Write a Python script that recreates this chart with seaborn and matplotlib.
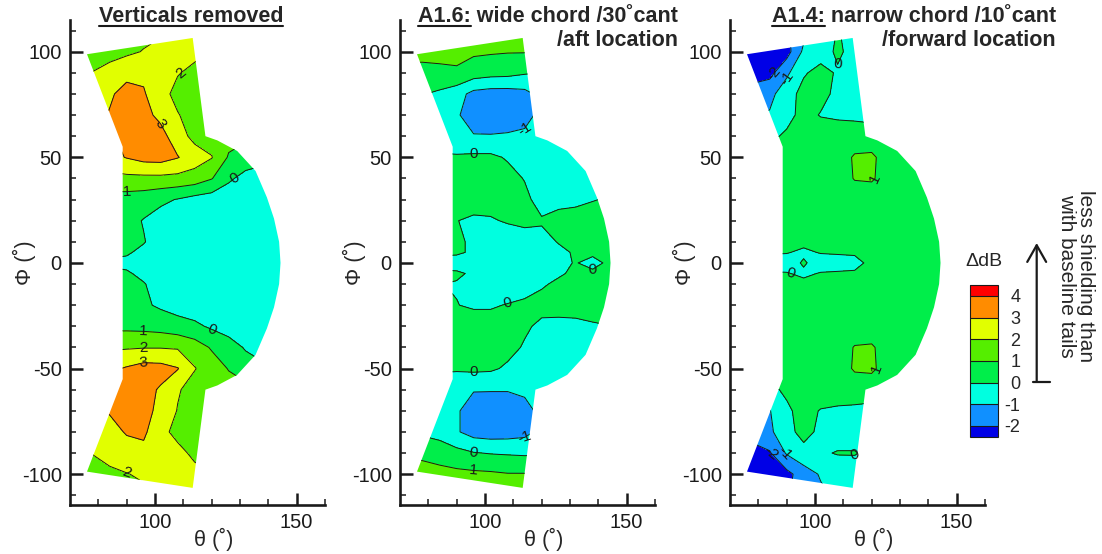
import numpy as np
import matplotlib
matplotlib.use("Agg")
import matplotlib.pyplot as plt
import seaborn as sns
from matplotlib.path import Path
from matplotlib.patches import PathPatch, FancyArrowPatch
from matplotlib.colors import ListedColormap, BoundaryNorm
from matplotlib.cm import ScalarMappable
from matplotlib.lines import Line2D

sns.set_theme(style="ticks")
plt.rcParams['font.family'] = ['Liberation Sans', 'DejaVu Sans']
plt.rcParams['axes.unicode_minus'] = False
plt.rcParams['contour.negative_linestyle'] = 'solid'

# ---------------- data ----------------
theta = [72, 78, 84, 90, 96, 102, 108, 114, 120, 126, 132, 138, 144, 150]
phi = [110, 100, 90, 80, 70, 60, 50, 40, 30, 20, 10, 5, 0, -5, -10,
       -20, -30, -40, -50, -60, -70, -80, -90, -100, -110]

dB_verticals_removed = [
    [0.8, 1.0, 1.3, 1.5, 1.7, 1.85, 1.95, 2.1, 2.1, 2.0, 1.9, 1.8, 1.7, 1.6],
    [1.0, 1.2, 1.5, 1.8, 2.05, 2.3, 2.35, 2.2, 2.0, 1.9, 1.8, 1.7, 1.6, 1.6],
    [1.7, 2.05, 2.5, 2.8, 2.8, 2.4, 2.05, 1.8, 1.6, 1.5, 1.5, 1.5, 1.5, 1.5],
    [2.2, 2.5, 2.9, 3.25, 3.1, 2.3, 1.75, 1.55, 1.5, 1.45, 1.4, 1.4, 1.4, 1.4],
    [2.4, 2.7, 3.05, 3.4, 3.3, 2.75, 2.05, 1.65, 1.5, 1.4, 1.35, 1.3, 1.3, 1.3],
    [2.4, 2.6, 2.85, 3.3, 3.55, 3.35, 2.45, 1.7, 1.5, 1.35, 1.2, 1.1, 1.05, 1.05],
    [2.2, 2.4, 2.7, 3.05, 3.35, 3.4, 3.05, 2.5, 2.05, 0.9, 0.5, 0.3, 0.2, 0.2],
    [1.5, 1.6, 1.7, 1.75, 1.75, 1.75, 1.7, 1.55, 1.05, 0.15, -0.3, -0.45, -0.5, -0.5],
    [0.6, 0.6, 0.6, 0.55, 0.45, 0.2, -0.05, -0.35, -0.5, -0.55, -0.6, -0.6, -0.55, -0.5],
    [0.5, 0.45, 0.4, 0.3, -0.05, -0.4, -0.55, -0.6, -0.65, -0.65, -0.65, -0.6, -0.55, -0.5],
    [0.4, 0.4, 0.35, 0.25, 0.05, -0.4, -0.6, -0.65, -0.65, -0.65, -0.65, -0.6, -0.55, -0.5],
    [0.2, 0.2, 0.15, 0.1, -0.2, -0.5, -0.6, -0.65, -0.65, -0.65, -0.65, -0.6, -0.55, -0.5],
    [-0.1, -0.1, -0.1, -0.2, -0.45, -0.55, -0.6, -0.65, -0.65, -0.65, -0.65, -0.6, -0.55, -0.5],
    [0.2, 0.2, 0.15, 0.1, -0.2, -0.5, -0.6, -0.65, -0.65, -0.65, -0.65, -0.6, -0.55, -0.5],
    [0.4, 0.4, 0.35, 0.25, 0.05, -0.35, -0.6, -0.65, -0.65, -0.65, -0.65, -0.6, -0.55, -0.5],
    [0.5, 0.5, 0.45, 0.4, 0.15, -0.15, -0.4, -0.55, -0.6, -0.65, -0.65, -0.6, -0.55, -0.5],
    [0.75, 0.75, 0.75, 0.75, 0.7, 0.6, 0.4, 0.2, -0.15, -0.45, -0.55, -0.6, -0.55, -0.5],
    [1.7, 1.8, 1.85, 1.9, 1.95, 1.95, 1.9, 1.5, 0.9, 0.45, -0.1, -0.4, -0.5, -0.5],
    [2.3, 2.5, 2.8, 3.1, 3.4, 3.35, 3.05, 2.05, 1.5, 0.95, 0.5, 0.2, 0.05, 0.05],
    [2.7, 2.85, 3.05, 3.35, 3.3, 2.9, 2.1, 1.6, 1.5, 1.4, 1.3, 1.2, 1.1, 1.1],
    [2.7, 2.9, 3.05, 3.35, 3.3, 2.75, 1.95, 1.6, 1.5, 1.45, 1.4, 1.4, 1.4, 1.4],
    [2.5, 2.6, 2.8, 3.05, 3.2, 2.2, 1.8, 1.6, 1.5, 1.5, 1.5, 1.5, 1.5, 1.5],
    [1.7, 2.05, 2.5, 2.75, 2.7, 2.55, 2.2, 1.85, 1.7, 1.6, 1.6, 1.6, 1.6, 1.6],
    [1.0, 1.4, 1.7, 1.95, 2.2, 2.4, 2.4, 2.2, 2.05, 1.9, 1.8, 1.7, 1.6, 1.6],
    [0.8, 1.05, 1.3, 1.5, 1.7, 1.9, 2.1, 2.2, 2.1, 1.95, 1.9, 1.8, 1.7, 1.6],
]

dB_A16 = [
    [1.3, 1.3, 1.3, 1.3, 1.3, 1.3, 1.25, 1.2, 1.2, 1.2, 1.2, 1.2, 1.2, 1.2],
    [1.3, 1.25, 1.2, 1.2, 1.15, 1.1, 1.05, 1.05, 1.05, 1.05, 1.05, 1.05, 1.05, 1.05],
    [0.7, 0.75, 0.85, 0.9, 0.5, 0.35, 0.3, 0.1, -0.05, -0.05, -0.05, -0.05, -0.05, -0.05],
    [0.2, 0.05, -0.2, -0.6, -1.3, -1.45, -1.45, -1.3, -0.7, -0.5, -0.5, -0.5, -0.5, -0.5],
    [-0.3, -0.4, -0.5, -0.9, -1.4, -1.5, -1.5, -1.35, -0.7, -0.5, -0.5, -0.5, -0.5, -0.5],
    [-0.5, -0.5, -0.6, -0.9, -0.95, -0.95, -0.9, -0.8, -0.6, -0.5, -0.5, -0.5, -0.5, -0.5],
    [0.15, 0.15, 0.15, 0.15, 0.2, 0.2, -0.1, -0.45, -0.55, -0.55, -0.55, -0.5, -0.5, -0.5],
    [0.4, 0.4, 0.45, 0.5, 0.5, 0.45, 0.35, -0.05, -0.45, -0.5, -0.5, -0.5, -0.5, -0.5],
    [0.4, 0.4, 0.4, 0.4, 0.4, 0.4, 0.35, 0.25, -0.4, -0.35, -0.25, -0.05, 0.1, 0.1],
    [0.05, 0.05, 0.05, 0.02, -0.15, -0.1, 0.1, 0.25, 0.1, 0.4, 0.45, 0.5, 0.5, 0.5],
    [0.1, 0.1, 0.1, 0.05, -0.05, -0.5, -0.6, -0.5, -0.3, 0.05, 0.3, 0.4, 0.45, 0.45],
    [0.1, 0.1, 0.1, 0.1, -0.1, -0.5, -0.6, -0.55, -0.45, -0.2, 0.1, 0.2, 0.3, 0.3],
    [-0.2, -0.2, -0.2, -0.3, -0.5, -0.6, -0.6, -0.6, -0.5, -0.2, 0.05, -0.3, 0.2, 0.3],
    [0.1, 0.1, 0.1, 0.1, -0.1, -0.5, -0.6, -0.55, -0.45, -0.1, 0.15, 0.2, 0.3, 0.3],
    [0.02, 0.02, 0.02, -0.05, -0.2, -0.5, -0.6, -0.45, -0.1, 0.15, 0.35, 0.4, 0.45, 0.45],
    [0.05, 0.05, 0.05, 0.02, -0.1, -0.1, 0.05, 0.2, 0.3, 0.4, 0.4, 0.4, 0.4, 0.4],
    [0.4, 0.4, 0.4, 0.4, 0.4, 0.4, 0.35, 0.15, -0.2, -0.3, -0.25, -0.1, -0.02, -0.02],
    [0.4, 0.4, 0.45, 0.5, 0.5, 0.45, 0.3, -0.1, -0.45, -0.5, -0.5, -0.5, -0.5, -0.5],
    [0.15, 0.15, 0.15, 0.15, 0.2, 0.15, -0.15, -0.45, -0.55, -0.55, -0.55, -0.5, -0.5, -0.5],
    [-0.5, -0.5, -0.6, -0.9, -0.95, -0.95, -0.95, -0.8, -0.6, -0.5, -0.5, -0.5, -0.5, -0.5],
    [-0.3, -0.4, -0.5, -0.9, -1.4, -1.5, -1.5, -1.35, -0.7, -0.5, -0.5, -0.5, -0.5, -0.5],
    [-0.1, -0.2, -0.4, -0.9, -1.4, -1.5, -1.45, -1.3, -0.7, -0.5, -0.5, -0.5, -0.5, -0.5],
    [0.9, 0.8, 0.6, 0.3, 0.05, -0.05, -0.1, -0.15, -0.1, -0.1, -0.1, -0.1, -0.1, -0.1],
    [1.4, 1.35, 1.3, 1.25, 1.2, 1.15, 1.05, 1.05, 1.05, 1.05, 1.05, 1.05, 1.05, 1.05],
    [1.4, 1.4, 1.4, 1.35, 1.3, 1.25, 1.2, 1.15, 1.1, 1.1, 1.1, 1.1, 1.1, 1.1],
]

dB_A14 = [
    [-2.6, -2.6, -2.5, -2.2, -1.3, -0.6, 0.05, -0.3, -0.4, -0.4, -0.4, -0.4, -0.4, -0.4],
    [-2.6, -2.6, -2.6, -2.4, -0.8, -0.4, 0.15, -0.3, -0.4, -0.4, -0.4, -0.4, -0.4, -0.4],
    [-2.5, -2.4, -2.3, -1.2, -0.1, 0.3, -0.1, -0.4, -0.5, -0.5, -0.5, -0.5, -0.5, -0.5],
    [-1.8, -1.6, -1.3, -0.4, 0.3, 0.25, -0.2, -0.4, -0.5, -0.5, -0.5, -0.5, -0.5, -0.5],
    [-1.3, -1.1, -0.9, -0.3, 0.3, -0.05, -0.15, -0.2, -0.3, -0.3, -0.3, -0.3, -0.3, -0.3],
    [-0.5, -0.4, -0.2, 0.15, 0.4, 0.5, 0.5, 0.5, 0.5, 0.5, 0.5, 0.5, 0.5, 0.5],
    [0.5, 0.5, 0.5, 0.5, 0.5, 0.5, 0.55, 1.1, 1.15, 0.6, 0.5, 0.5, 0.5, 0.5],
    [0.5, 0.5, 0.5, 0.5, 0.5, 0.5, 0.55, 1.05, 1.1, 0.6, 0.5, 0.5, 0.5, 0.5],
    [0.5, 0.5, 0.5, 0.5, 0.5, 0.5, 0.5, 0.5, 0.5, 0.5, 0.5, 0.5, 0.5, 0.5],
    [0.5, 0.5, 0.5, 0.5, 0.5, 0.5, 0.5, 0.5, 0.5, 0.5, 0.5, 0.5, 0.5, 0.5],
    [0.4, 0.4, 0.4, 0.4, 0.2, 0.45, 0.5, 0.5, 0.5, 0.5, 0.5, 0.5, 0.5, 0.5],
    [0.2, 0.15, 0.1, 0.05, -0.15, 0.05, 0.1, 0.15, 0.4, 0.5, 0.5, 0.5, 0.5, 0.5],
    [-0.3, -0.4, -0.4, -0.4, 0.1, -0.4, -0.4, -0.35, 0.3, 0.5, 0.5, 0.5, 0.5, 0.5],
    [0.2, 0.15, 0.1, 0.05, -0.15, 0.05, 0.1, 0.15, 0.4, 0.5, 0.5, 0.5, 0.5, 0.5],
    [0.4, 0.4, 0.4, 0.4, 0.2, 0.45, 0.5, 0.5, 0.5, 0.5, 0.5, 0.5, 0.5, 0.5],
    [0.5, 0.5, 0.5, 0.5, 0.5, 0.5, 0.5, 0.5, 0.5, 0.5, 0.5, 0.5, 0.5, 0.5],
    [0.5, 0.5, 0.5, 0.5, 0.5, 0.5, 0.5, 0.5, 0.5, 0.5, 0.5, 0.5, 0.5, 0.5],
    [0.5, 0.5, 0.5, 0.5, 0.5, 0.5, 0.55, 1.05, 1.1, 0.6, 0.5, 0.5, 0.5, 0.5],
    [0.5, 0.5, 0.5, 0.5, 0.5, 0.5, 0.55, 1.1, 1.15, 0.6, 0.5, 0.5, 0.5, 0.5],
    [-0.5, -0.4, -0.2, 0.15, 0.4, 0.5, 0.5, 0.5, 0.5, 0.5, 0.5, 0.5, 0.5, 0.5],
    [-1.4, -1.2, -1.05, -0.15, 0.3, -0.05, -0.15, -0.2, -0.3, -0.3, -0.3, -0.3, -0.3, -0.3],
    [-1.8, -1.6, -1.2, -0.3, 0.3, -0.2, -0.4, -0.4, -0.4, -0.4, -0.4, -0.4, -0.4, -0.4],
    [-2.4, -2.35, -2.1, -0.9, -0.3, -0.1, 0.05, 0.05, -0.2, -0.3, -0.3, -0.3, -0.3, -0.3],
    [-2.6, -2.6, -2.5, -2.3, -1.5, -0.9, -0.5, -0.4, -0.4, -0.4, -0.4, -0.4, -0.4, -0.4],
    [-2.6, -2.5, -2.4, -2.1, -1.6, -1.2, -0.8, -0.5, -0.4, -0.4, -0.4, -0.4, -0.4, -0.4],
]

# measured (theta, phi) domain outline
domain_theta = [76.0, 113.3, 117.8, 122.0, 129.0, 135.5, 139.5, 142.0, 143.8, 144.3,
                143.8, 142.0, 139.5, 135.5, 129.0, 122.0, 117.8, 113.3, 76.0, 88.6, 88.6, 76.0]
domain_phi = [98.8, 106.5, 60.0, 58.0, 53.0, 43.5, 31.0, 21.0, 10.0, 0.0,
              -10.0, -21.0, -31.0, -43.5, -53.0, -58.0, -60.0, -106.5, -98.8, -55.0, 55.0, 98.8]

levels = [-2, -1, 0, 1, 2, 3, 4]
band_colors = ['#0000E6', '#1090FF', '#00FFE0', '#00EE4A',
               '#55EE00', '#E1FF00', '#FF8C00', '#FF0000']
panel_data = [dB_verticals_removed, dB_A16, dB_A14]

# ---------------- figure ----------------
W, H = 1102, 554
fig = plt.figure(figsize=(W / 100, H / 100), dpi=100)


def fx(px):
    return px / W


def fy(py):
    return 1 - py / H


T, P = np.meshgrid(theta, phi)
domain_path = Path(np.column_stack([domain_theta, domain_phi]))
axes_left = [70, 400, 730]

for x0, data in zip(axes_left, panel_data):
    ax = fig.add_axes([fx(x0), fy(505), 255 / W, 485 / H])
    Z = np.array(data)
    cf = ax.contourf(T, P, Z, levels=[-50] + levels + [50], colors=band_colors)
    cl = ax.contour(T, P, Z, levels=levels, colors='k', linewidths=0.7,
                    linestyles='solid')
    patch = PathPatch(domain_path, transform=ax.transData, facecolor='none', edgecolor='none')
    ax.add_patch(patch)
    cf.set_clip_path(patch)
    cl.set_clip_path(patch)
    texts = ax.clabel(cl, fmt=lambda v: "%d" % int(round(v)), fontsize=11,
                      inline=False, colors='k')
    for t in texts:
        if not domain_path.contains_point(t.get_position()):
            t.set_visible(False)

    ax.set_xlim(70, 160)
    ax.set_ylim(-114.6, 115)
    ax.set_xticks([100, 150])
    ax.set_xticks(np.arange(80, 161, 10), minor=True)
    ax.set_yticks([-100, -50, 0, 50, 100])
    ax.set_yticks(np.arange(-110, 111, 10), minor=True)
    ax.tick_params(which='major', direction='in', length=9, width=1.8,
                   labelsize=14.5, pad=6, color='k', labelcolor='k')
    ax.tick_params(which='minor', direction='in', length=4.5, width=1.1, color='k')
    sns.despine(ax=ax)
    for s in ['left', 'bottom']:
        ax.spines[s].set_linewidth(1.9)
        ax.spines[s].set_color('k')
    ax.set_facecolor('white')
    ax.set_xlabel("θ (˚)", fontsize=15.5, va='center')
    ax.xaxis.set_label_coords(0.565, -0.072)
    ax.set_ylabel("Φ (˚)", fontsize=15.5, va='center')
    ax.yaxis.set_label_coords(-0.18, 0.5)

# ---------------- titles ----------------
renderer = fig.canvas.get_renderer()
tfs = 15.5


def underline(x_left, width_px, y_px):
    fig.add_artist(Line2D([fx(x_left), fx(x_left + width_px)], [fy(y_px), fy(y_px)],
                          transform=fig.transFigure, color='k', lw=1.5))


t1 = fig.text(fx(191), fy(22), "Verticals removed", ha='center', va='baseline',
              fontsize=tfs, fontweight='bold')
bb = t1.get_window_extent(renderer)
underline(bb.x0, bb.width, 25.5)

title_lines = [("A1.6:", " wide chord /30˚cant", "/aft location", 678),
               ("A1.4:", " narrow chord /10˚cant", "/forward location", 1056)]
for prefix, rest, line2, xr in title_lines:
    tl = fig.text(fx(xr), fy(22), prefix + rest, ha='right', va='baseline',
                  fontsize=tfs, fontweight='bold')
    fig.text(fx(xr), fy(46), line2, ha='right', va='baseline',
             fontsize=tfs, fontweight='bold')
    bbl = tl.get_window_extent(renderer)
    tp = fig.text(0, 0, prefix, fontsize=tfs, fontweight='bold')
    wp = tp.get_window_extent(renderer).width
    tp.remove()
    underline(bbl.x0, wp, 25.5)

# ---------------- colorbar ----------------
cax = fig.add_axes([fx(970), fy(436.7), 28.3 / W, 151.7 / H])
cmap = ListedColormap(band_colors)
bounds = [-2.5, -2, -1, 0, 1, 2, 3, 4, 4.5]
norm = BoundaryNorm(bounds, cmap.N)
cb = fig.colorbar(ScalarMappable(norm=norm, cmap=cmap), cax=cax, boundaries=bounds,
                  spacing='proportional', ticks=levels, drawedges=True)
cb.outline.set_linewidth(0.8)
cb.outline.set_edgecolor('k')
cb.dividers.set_linewidth(0.8)
cb.dividers.set_color('k')
cb.minorticks_off()
cax.tick_params(which='both', length=0, width=0, labelsize=13, pad=16)
for lab in cax.get_yticklabels():
    lab.set_horizontalalignment('right')
fig.text(fx(984), fy(261), "ΔdB", ha='center', va='center', fontsize=14)

# arrow and note
arrow = FancyArrowPatch((fx(1036.7), fy(381.7)), (fx(1036.7), fy(243)),
                        transform=fig.transFigure,
                        arrowstyle='->,head_length=0.6,head_width=0.34',
                        mutation_scale=20, lw=1.6, color='k', shrinkA=0, shrinkB=0)
fig.add_artist(arrow)
fig.add_artist(Line2D([fx(1032.7), fx(1050)], [fy(381.7), fy(381.7)],
                      transform=fig.transFigure, color='k', lw=1.6))
fig.text(fx(1076), fy(276), "less shielding than\nwith baseline tails", rotation=-90,
         ha='center', va='center', fontsize=15, linespacing=1.0, multialignment='center')

fig.savefig("out.png", dpi=100)
